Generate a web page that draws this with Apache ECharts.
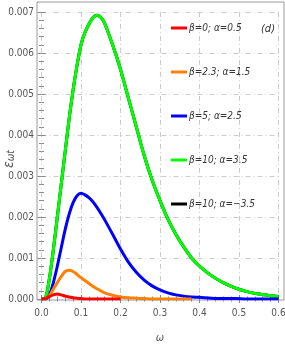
<!DOCTYPE html>
<html><head><meta charset="utf-8">
<script src="https://cdn.jsdelivr.net/npm/echarts@6/dist/echarts.min.js"></script>
<style>html,body{margin:0;padding:0;background:#fff}#c{width:285px;height:350px}</style>
</head><body><div id="c"></div>
<script>
const omega = [0,0.01,0.02,0.03,0.04,0.05,0.06,0.07,0.08,0.09,0.10,0.11,0.12,0.13,0.14,0.15,0.16,0.18,0.20,0.22,0.24,0.26,0.28,0.30,0.32,0.34,0.36,0.38,0.40,0.43,0.46,0.49,0.52,0.55,0.58,0.60];
const red =    [0,0.00001,0.00006,0.0001,0.00012,0.0001,0.00007,0.00005,0.00003,0.00002,0.00001,0,0,0,0,0,0,0,0,null,null,null,null,null,null,null,null,null,null,null,null,null,null,null,null,null];
const orange = [0,0.00001,0.00008,0.00024,0.0004,0.00055,0.00067,0.0007,0.00067,0.0006,0.00052,0.00045,0.00038,0.00031,0.00025,0.0002,0.00015,0.00009,0.00005,0.00003,0.00002,0.00001,0,0,0,0,0,0,null,null,null,null,null,null,null,null];
const blue =   [0,0,0.0001,0.0004,0.0008,0.00125,0.0017,0.00207,0.00235,0.00252,0.00258,0.00254,0.00247,0.00237,0.00224,0.00209,0.00193,0.00158,0.00122,0.0009,0.00065,0.00046,0.00032,0.00022,0.00015,0.0001,0.00007,0.00005,0.00004,0.00002,0.00001,0.00001,0,0,0,0];
const green =  [0,0.00003,0.0005,0.0012,0.002,0.0028,0.0036,0.0044,0.0051,0.0057,0.0062,0.0065,0.0067,0.00686,0.00692,0.00687,0.00672,0.0062,0.0056,0.0049,0.0042,0.0035,0.0029,0.0024,0.00195,0.00158,0.00127,0.001,0.0008,0.00057,0.0004,0.00027,0.00018,0.00012,0.00008,0.00006];
const black = green.slice();
const names = ['β=0; α=0.5','β=2.3; α=1.5','β=5; α=2.5','β=10; α=3.5','β=10; α=−3.5'];
const colors = ['#ff0000','#ff8000','#0000ff','#00ff00','#000000'];
const xTicks = [0,0.1,0.2,0.3,0.4,0.5,0.6];
const yTicks = [0,0.001,0.002,0.003,0.004,0.005,0.006,0.007];

const FONT = '"Liberation Sans Narrow","DejaVu Sans Condensed","Liberation Sans",sans-serif';
const pairs = arr => omega.map((w,i)=>[w,arr[i]]).filter(p=>p[1]!==null);
const seriesData = [red,orange,blue,green,black];
const zOrder = [5,4,3,2,1];
const chart = echarts.init(document.getElementById('c'));
const gridLine = {show:true,lineStyle:{color:'#cccccc',width:1,type:[5,3,1,3]}};
const tickStyle = {lineStyle:{color:'#888'}};
chart.setOption({
  animation:false,
  grid:[
    {left:41.5,right:6.5,top:12,bottom:51,show:false,containLabel:false,outerBoundsMode:'none'},
    {left:37,right:1,top:2,bottom:50,show:true,borderColor:'#999',borderWidth:1,backgroundColor:'transparent',containLabel:false,outerBoundsMode:'none'}
  ],
  legend:{
    left:166, top:17, orient:'vertical', itemWidth:16, itemHeight:3, itemGap:32, icon:'rect',
    data:names,
    textStyle:{fontFamily:FONT,fontSize:10,color:'#333',fontStyle:'italic',lineHeight:12,padding:[0,0,0,-3]}
  },
  graphic:[
    {type:'text',left:261,top:24,style:{text:'(d)',font:'italic 11px '+FONT,fill:'#333'}},
    {type:'text',x:2,y:168,rotation:Math.PI/2,
     style:{text:'{e|ε}{s|ωt}',rich:{e:{fontFamily:FONT,fontSize:14,fill:'#555',fontStyle:'italic',verticalAlign:'bottom'},
                          s:{fontFamily:FONT,fontSize:10,fill:'#555',fontStyle:'italic',verticalAlign:'bottom'}}}}
  ],
  xAxis:[
    {type:'value',gridIndex:0,min:0,max:0.6,interval:0.1,offset:1,
     axisLine:{show:false},axisTick:{show:true,inside:true,length:4,...tickStyle},
     minorTick:{show:true,splitNumber:5,length:2.5,...tickStyle},
     splitLine:gridLine,
     axisLabel:{fontFamily:FONT,fontSize:10,color:'#555',margin:8,formatter:v=>v.toFixed(1)},
     name:'ω',nameLocation:'middle',nameGap:33,nameTextStyle:{fontFamily:FONT,fontSize:11,color:'#555',fontStyle:'italic'}},
    {type:'value',gridIndex:0,position:'top',min:0,max:0.6,interval:0.1,offset:10,
     axisLine:{show:false},axisTick:{show:true,inside:true,length:4,...tickStyle},
     minorTick:{show:true,splitNumber:5,length:2.5,...tickStyle},
     splitLine:{show:false},axisLabel:{show:false}},
    {type:'value',gridIndex:1,show:false,min:0,max:1}
  ],
  yAxis:[
    {type:'value',gridIndex:0,min:0,max:0.007,interval:0.001,offset:4.5,
     axisLine:{show:false},axisTick:{show:true,inside:true,length:4,...tickStyle},
     minorTick:{show:true,splitNumber:5,length:2.5,...tickStyle},
     splitLine:gridLine,
     axisLabel:{fontFamily:FONT,fontSize:10,color:'#555',margin:3,formatter:v=>v.toFixed(3)}},
    {type:'value',gridIndex:0,position:'right',min:0,max:0.007,interval:0.001,offset:5.5,
     axisLine:{show:false},axisTick:{show:true,inside:true,length:4,...tickStyle},
     minorTick:{show:true,splitNumber:5,length:2.5,...tickStyle},
     splitLine:{show:false},axisLabel:{show:false}},
    {type:'value',gridIndex:1,show:false,min:0,max:1}
  ],
  series: seriesData.map((d,i)=>({
    name:names[i],type:'line',xAxisIndex:0,yAxisIndex:0,data:pairs(d),
    smooth:0.3,showSymbol:false,z:zOrder[i],
    lineStyle:{color:colors[i],width:3},itemStyle:{color:colors[i]}
  }))
});
</script></body></html>
